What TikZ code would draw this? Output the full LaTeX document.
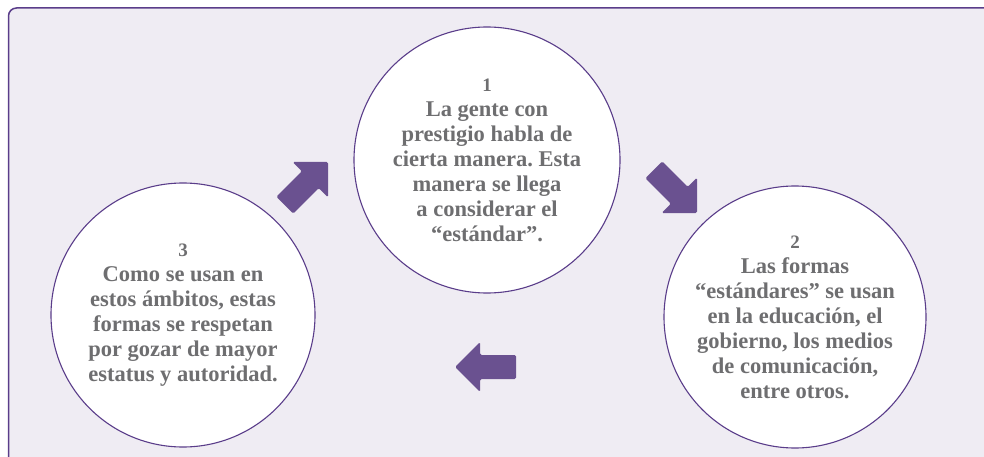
\documentclass[tikz,border=0pt]{standalone}
\usepackage{fontspec}
\setmainfont{Liberation Serif}
\definecolor{boxfill}{HTML}{EFECF3}
\definecolor{boxline}{HTML}{5A3D8A}
\definecolor{arrowc}{HTML}{6A5190}
\definecolor{txtc}{HTML}{6E6E70}
\tikzset{
  bubble/.style={circle, draw=boxline, line width=1.1pt, fill=white, inner sep=0pt,
    minimum size=266pt, align=center, text=txtc,
    font=\fontsize{22.5}{25}\selectfont\bfseries\frenchspacing},
  blockarrow/.style={fill=arrowc, rounded corners=1.5pt}
}
\newcommand{\numtxt}[1]{{\fontsize{19}{25}\selectfont #1}}
\begin{document}
\begin{tikzpicture}[x=1pt,y=-1pt]
\useasboundingbox (0,0) rectangle (984,457);
\clip (0,0) rectangle (984,457);
\draw[fill=boxfill, draw=boxline, line width=1.5pt, rounded corners=8pt] (8.5,8) rectangle (1000,480);
% circles
\node[bubble] (c1) at (487,160) {\numtxt{1}\\La gente con\\prestigio habla de\\cierta manera. Esta\\manera se llega\\a considerar el\\“estándar”.};
\node[bubble, minimum size=262pt] (c2) at (795,317) {\numtxt{2}\\Las formas\\“estándares” se usan\\en la educación, el\\gobierno, los medios\\de comunicación,\\entre otros.};
\node[bubble, minimum size=264pt] (c3) at (183,315) {\numtxt{3}\\Como se usan en\\estos ámbitos, estas\\formas se respetan\\por gozar de mayor\\estatus y autoridad.};
% arrows
\begin{scope}[shift={(328,162)}, rotate=45]
  \fill[blockarrow] (0,0) -- (-25,25) -- (-25,12) -- (-61,12) -- (-61,-12) -- (-25,-12) -- (-25,-25) -- cycle;
\end{scope}
\begin{scope}[shift={(697,213)}, rotate=-45]
  \fill[blockarrow] (0,0) -- (-25,25) -- (-25,12) -- (-61,12) -- (-61,-12) -- (-25,-12) -- (-25,-25) -- cycle;
\end{scope}
\begin{scope}[shift={(455,367)}, rotate=180]
  \fill[blockarrow] (0,0) -- (-25,25) -- (-25,12) -- (-61,12) -- (-61,-12) -- (-25,-12) -- (-25,-25) -- cycle;
\end{scope}
\end{tikzpicture}
\end{document}
